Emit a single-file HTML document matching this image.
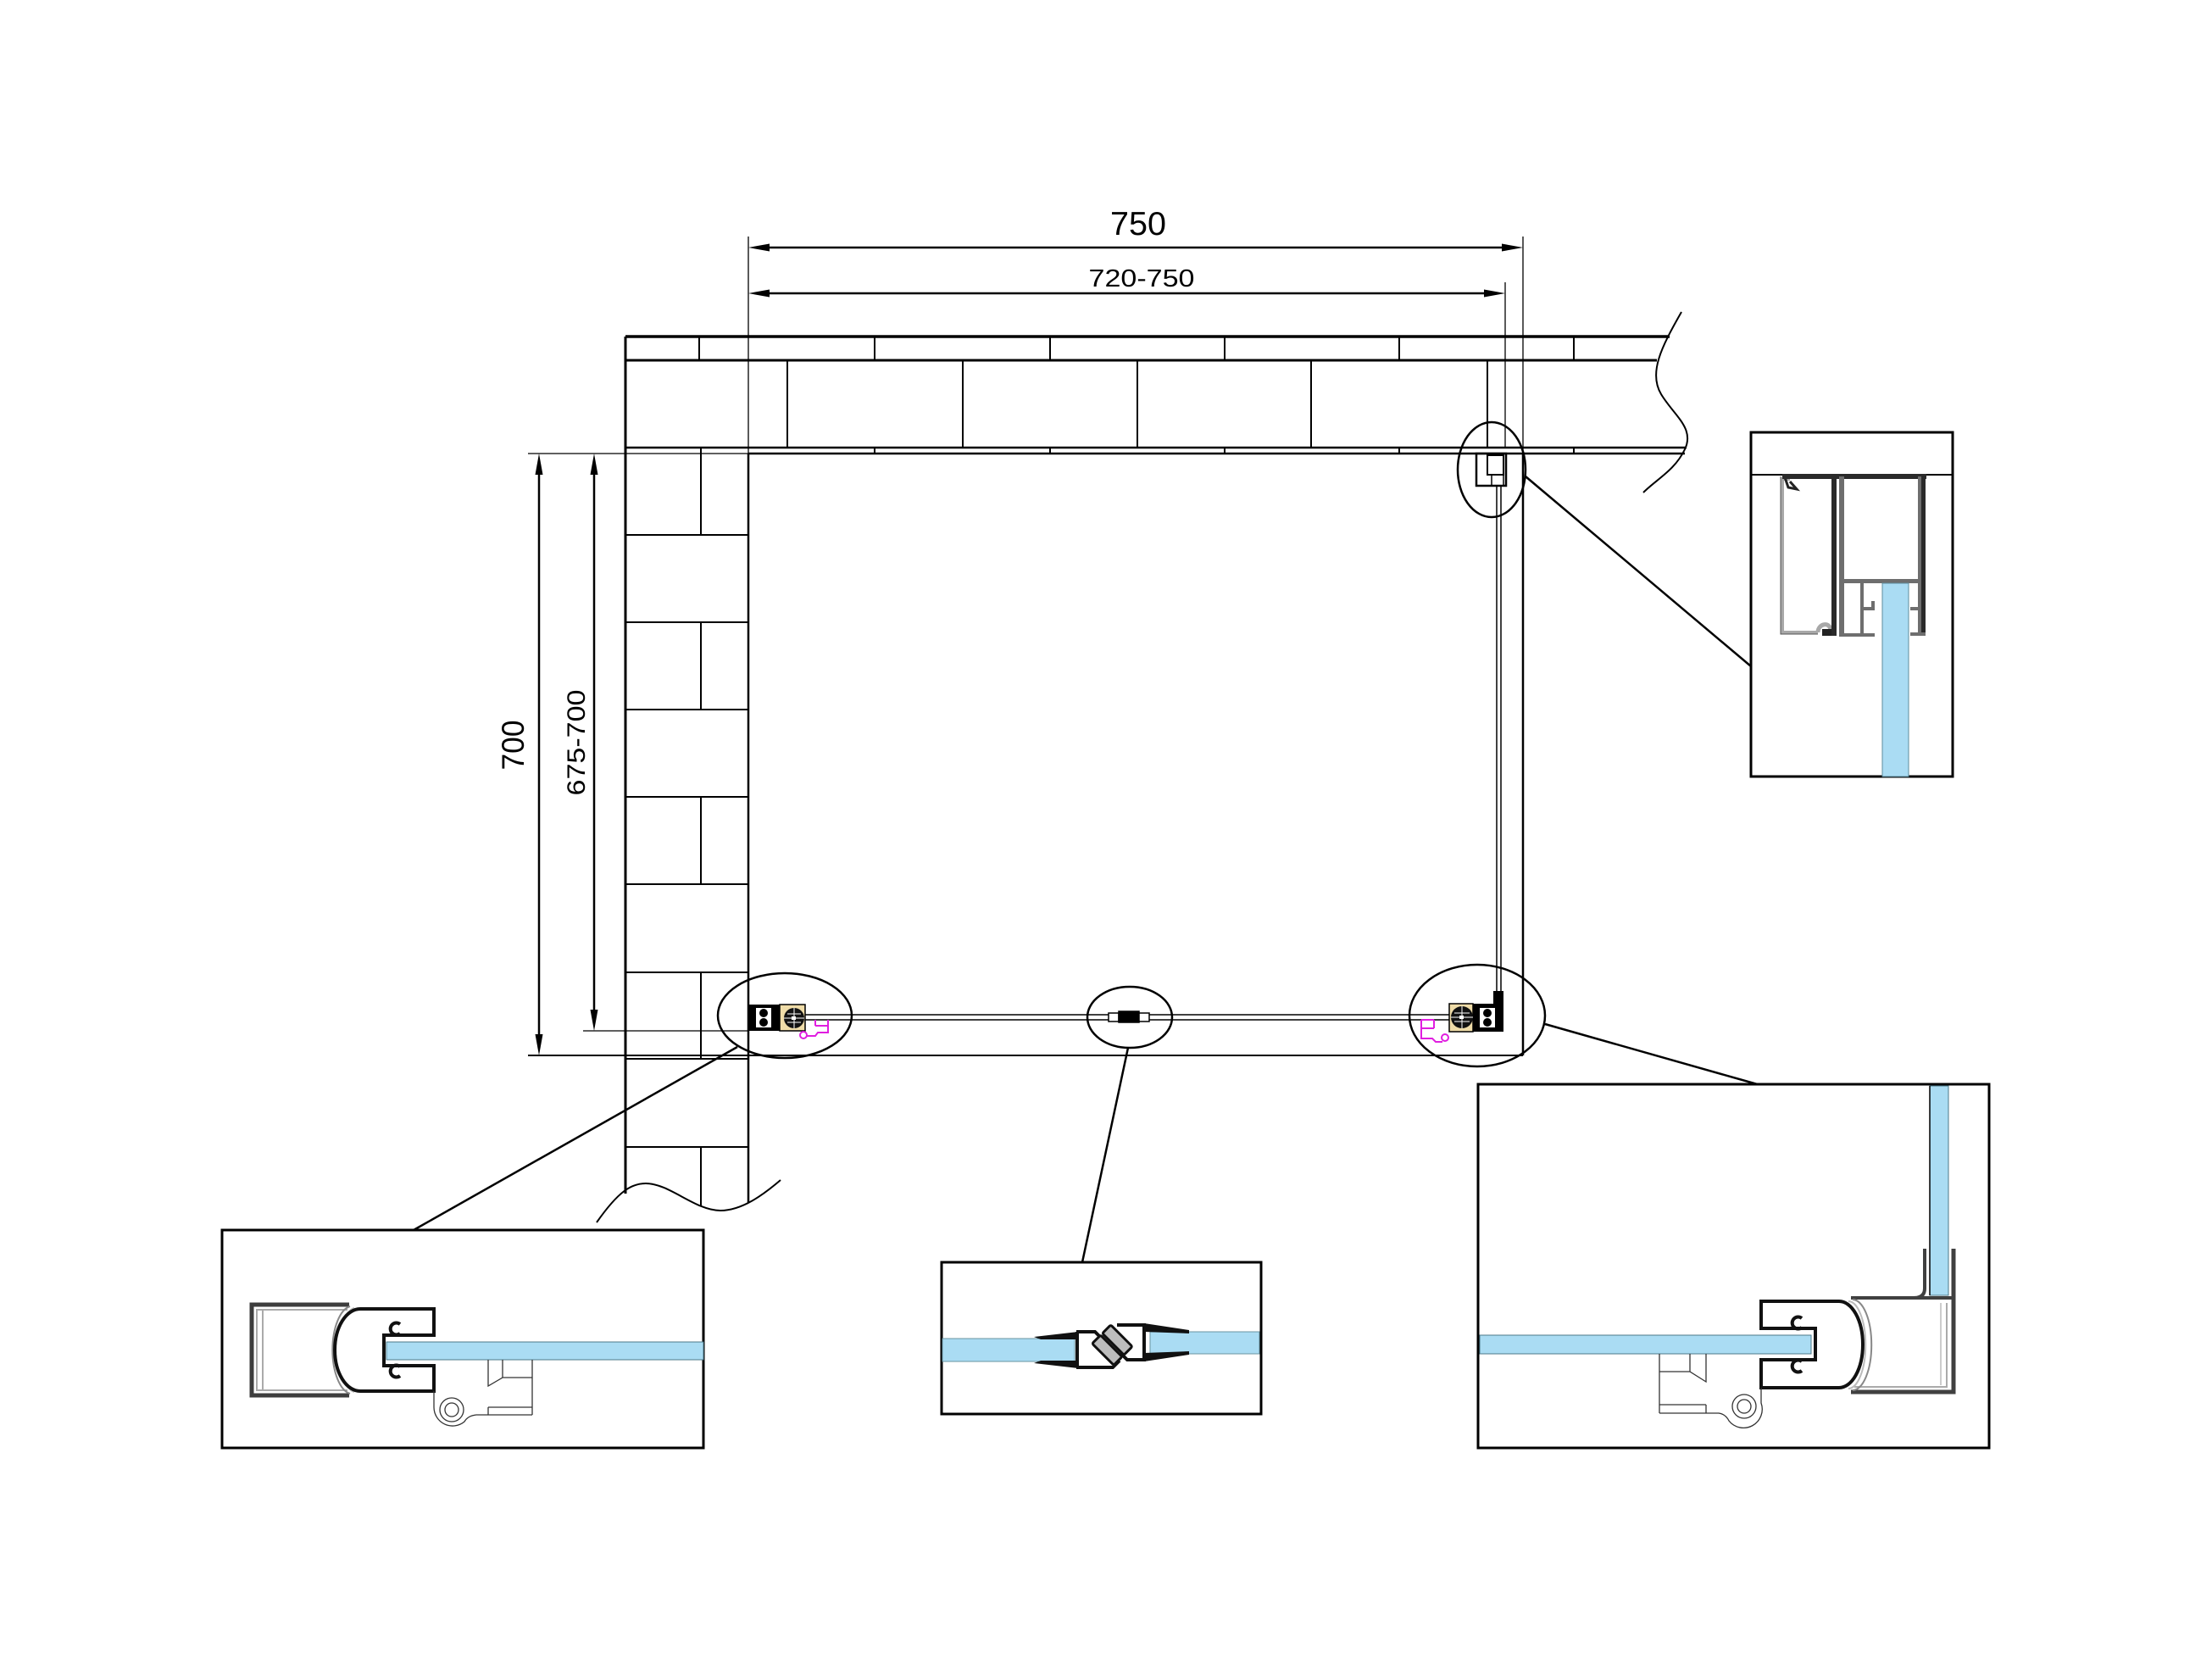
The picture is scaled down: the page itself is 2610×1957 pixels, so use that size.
<!DOCTYPE html>
<html><head><meta charset="utf-8">
<style>html,body{margin:0;padding:0;background:#fff}svg{display:block}</style></head>
<body>
<svg xmlns="http://www.w3.org/2000/svg" width="2610" height="1957" viewBox="0 0 2610 1957">
<rect width="2610" height="1957" fill="#fff"/>

<!-- ===== WALLS ===== -->
<g stroke="#000" fill="none">
  <line x1="738" y1="397" x2="1970" y2="397" stroke-width="3.5"/>
  <line x1="738" y1="425" x2="1955" y2="425" stroke-width="3"/>
  <line x1="738" y1="528" x2="1990" y2="528" stroke-width="2.5"/>
  <line x1="883" y1="535" x2="1988" y2="535" stroke-width="2.5"/>
  <path stroke-width="2" d="M825,397V425 M1032,397V425 M1239,397V425 M1445,397V425 M1651,397V425 M1857,397V425
    M929,425V528 M1136,425V528 M1342,425V528 M1547,425V528 M1755,425V528
    M1032,528V535 M1239,528V535 M1445,528V535 M1651,528V535 M1857,528V535"/>
  <!-- break curve top right -->
  <path stroke-width="2" d="M1984,368 C1960,410 1945,440 1960,465 S2000,505 1988,530 S1955,565 1939,581"/>
  <!-- left wall -->
  <line x1="738" y1="397" x2="738" y2="1408" stroke-width="3"/>
  <line x1="883" y1="535" x2="883" y2="1419" stroke-width="2.5"/>
  <path stroke-width="2" d="M738,631H883 M738,734H883 M738,837H883 M738,940H883 M738,1043H883 M738,1147H883 M738,1249H883 M738,1353H883
    M827,528V631 M827,734V837 M827,940V1043 M827,1147V1249 M827,1353V1422"/>
  <path stroke-width="2" d="M704,1442 C730,1405 745,1396 762,1396 C790,1396 820,1428 850,1428 C875,1428 900,1410 921,1392"/>
  <!-- room -->
  <line x1="1797" y1="535" x2="1797" y2="1245" stroke-width="2.5"/>
  <line x1="623" y1="1245" x2="1797" y2="1245" stroke-width="2"/>
  <!-- extension lines -->
  <path stroke-width="1.3" d="M883,279V535 M1797,279V535 M1776,333V528 M623,535H883 M688,1216H883"/>
</g>

<!-- ===== DIMENSIONS ===== -->
<g stroke="#000" stroke-width="2.5">
  <line x1="895" y1="292" x2="1785" y2="292"/>
  <line x1="895" y1="346" x2="1764" y2="346"/>
  <line x1="636" y1="547" x2="636" y2="1233"/>
  <line x1="701" y1="547" x2="701" y2="1204"/>
</g>
<g fill="#000">
  <polygon points="883,292 908,287.5 908,296.5"/>
  <polygon points="1797,292 1772,287.5 1772,296.5"/>
  <polygon points="883,346 908,341.5 908,350.5"/>
  <polygon points="1776,346 1751,341.5 1751,350.5"/>
  <polygon points="636,535 631.5,560 640.5,560"/>
  <polygon points="636,1245 631.5,1220 640.5,1220"/>
  <polygon points="701,535 696.5,560 705.5,560"/>
  <polygon points="701,1216 696.5,1191 705.5,1191"/>
</g>
<g font-family="'Liberation Sans Narrow','Liberation Sans',sans-serif" fill="#000" text-anchor="middle">
  <text x="1343" y="277" font-size="39" textLength="66" lengthAdjust="spacingAndGlyphs">750</text>
  <text x="1347" y="338" font-size="29" textLength="125" lengthAdjust="spacingAndGlyphs">720-750</text>
  <text transform="translate(618,879) rotate(-90)" x="0" y="0" font-size="37" textLength="59" lengthAdjust="spacingAndGlyphs">700</text>
  <text transform="translate(690,876) rotate(-90)" x="0" y="0" font-size="30" textLength="125" lengthAdjust="spacingAndGlyphs">675-700</text>
</g>

<!-- ===== PLAN GLASS & FITTINGS ===== -->
<g stroke="#000" stroke-width="1.5" fill="none">
  <path d="M949,1197H1710 M949,1203H1710"/>
  <path d="M1766,573V1169 M1771,573V1169"/>
</g>
<!-- top right profile -->
<g stroke="#000" fill="none">
  <rect x="1742" y="535" width="35" height="38" stroke-width="2.5"/>
  <rect x="1755" y="537" width="19" height="23" stroke-width="2"/>
  <path d="M1760,560V573 M1774,560V573" stroke-width="1.5"/>
</g>
<!-- middle seal -->
<g stroke="#000" stroke-width="1.5">
  <rect x="1308" y="1195" width="12" height="10" fill="#fff"/>
  <rect x="1320" y="1193" width="24" height="13" fill="#000"/>
  <rect x="1344" y="1195" width="12" height="10" fill="#fff"/>
</g>
<!-- bottom-left plan hinge -->
<g>
  <rect x="883" y="1185" width="37" height="31" fill="#000"/>
  <rect x="889" y="1189" width="24" height="23" fill="#fff"/>
  <rect x="889" y="1189" width="3" height="23" fill="#000"/>
  <rect x="910" y="1189" width="3" height="23" fill="#000"/>
  <circle cx="901" cy="1195" r="5" fill="#000"/>
  <circle cx="901" cy="1206" r="5" fill="#000"/>
  <rect x="920" y="1185" width="30" height="31" fill="#efdca8" stroke="#000" stroke-width="1.5"/>
  <circle cx="937" cy="1201" r="12" fill="#111"/>
  <path d="M925,1201H949 M937,1189V1213 M929,1196H945 M929,1206H945" stroke="#fff" stroke-width="1"/>
  <rect x="934" y="1199" width="5" height="4" fill="#fff"/>
  <path d="M952,1222H962L965,1218H977V1203 M962,1210H977 M962,1203V1210" stroke="#e01ee0" stroke-width="2" fill="none"/>
  <circle cx="948" cy="1221" r="4" stroke="#e01ee0" stroke-width="2" fill="none"/>
</g>
<!-- bottom-right plan hinge -->
<g>
  <rect x="1738" y="1184" width="36" height="33" fill="#000"/>
  <rect x="1762" y="1169" width="12" height="16" fill="#000"/>
  <rect x="1743" y="1189" width="24" height="23" fill="#fff"/>
  <rect x="1743" y="1189" width="3" height="23" fill="#000"/>
  <rect x="1764" y="1189" width="3" height="23" fill="#000"/>
  <circle cx="1755" cy="1195" r="5" fill="#000"/>
  <circle cx="1755" cy="1206" r="5" fill="#000"/>
  <rect x="1710" y="1184" width="28" height="33" fill="#efdca8" stroke="#000" stroke-width="1.5"/>
  <circle cx="1725" cy="1200" r="13" fill="#111"/>
  <path d="M1712,1200H1738 M1725,1187V1213 M1716,1195H1734 M1716,1205H1734" stroke="#fff" stroke-width="1"/>
  <rect x="1722" y="1198" width="5" height="4" fill="#fff"/>
  <path d="M1677,1203V1225H1690L1694,1229H1702 M1677,1213H1692 M1692,1203V1213 M1677,1203H1692" stroke="#e01ee0" stroke-width="2" fill="none"/>
  <circle cx="1705" cy="1224" r="4" stroke="#e01ee0" stroke-width="2" fill="none"/>
</g>

<!-- ===== ELLIPSES & CONNECTORS ===== -->
<g stroke="#000" stroke-width="2.5" fill="none">
  <ellipse cx="1760" cy="554" rx="40" ry="56"/>
  <ellipse cx="926" cy="1198" rx="79" ry="50"/>
  <ellipse cx="1333" cy="1200" rx="50" ry="36"/>
  <ellipse cx="1743" cy="1198" rx="80" ry="60"/>
  <line x1="1800" y1="562" x2="2066" y2="786"/>
  <line x1="870" y1="1235" x2="488" y2="1451"/>
  <line x1="1331" y1="1236" x2="1277" y2="1489"/>
  <line x1="1823" y1="1208" x2="2077" y2="1280"/>
</g>

<!-- ===== DETAIL TOP RIGHT ===== -->
<g>
  <rect x="2066" y="510" width="238" height="406" fill="#fff" stroke="#000" stroke-width="3"/>
  <line x1="2066" y1="560" x2="2304" y2="560" stroke="#000" stroke-width="2"/>
  <!-- left light profile -->
  <path d="M2112,565 H2103 V746 H2145" stroke="#a8a8a8" stroke-width="4" fill="none"/>
  <path d="M2101,562 V748 H2145" stroke="#555" stroke-width="1" fill="none"/>
  <path d="M2106,563 L2110,575 L2120,577 L2112,568" stroke="#222" stroke-width="3" fill="none"/>
  <path d="M2145,746 C2145,735 2160,733 2160,744" stroke="#a8a8a8" stroke-width="5" fill="none"/>
  <rect x="2150" y="742" width="15" height="8" fill="#222"/>
  <rect x="2161" y="562" width="6" height="188" fill="#2a2a2a"/>
  <!-- top dark band -->
  <rect x="2103" y="559" width="170" height="6" fill="#2a2a2a"/>
  <!-- right profile -->
  <rect x="2170" y="562" width="6" height="188" fill="#6e6e6e"/>
  <rect x="2263" y="562" width="4" height="188" fill="#6e6e6e"/>
  <rect x="2267" y="562" width="5" height="188" fill="#2a2a2a"/>
  <rect x="2176" y="683" width="87" height="5" fill="#6e6e6e"/>
  <rect x="2195" y="688" width="4" height="62" fill="#6e6e6e"/>
  <path d="M2199,718 H2210 V709" stroke="#6e6e6e" stroke-width="4" fill="none"/>
  <path d="M2254,718 H2265 M2254,748 H2272" stroke="#6e6e6e" stroke-width="4" fill="none"/>
  <path d="M2170,749 H2212" stroke="#6e6e6e" stroke-width="4" fill="none"/>
  <rect x="2221" y="688" width="31" height="228" fill="#aadcf3" stroke="#5d8c9c" stroke-width="1"/>
</g>

<!-- ===== DETAIL BOTTOM LEFT ===== -->
<g>
  <rect x="262" y="1451" width="568" height="257" fill="#fff" stroke="#000" stroke-width="3"/>
  <!-- wall profile -->
  <path d="M412,1539 H297 V1646 H412" stroke="#3d3d3d" stroke-width="5" fill="none"/>
  <path d="M410,1545 H303 V1640 H410" stroke="#aaa" stroke-width="2" fill="none"/>
  <line x1="310" y1="1545" x2="310" y2="1640" stroke="#aaa" stroke-width="2"/>
  <!-- seal arcs -->
  <path d="M413,1541 A24,52 0 0 0 413,1644" stroke="#888" stroke-width="2" fill="none"/>
  <path d="M418,1543 A22,50 0 0 0 418,1642" stroke="#bbb" stroke-width="2" fill="none"/>
  <!-- hinge -->
  <path d="M512,1575 L512,1544 L425,1544 A30,48.5 0 0 0 425,1641 L512,1641 L512,1611 L453,1611 L453,1575 Z" fill="#fff" stroke="#111" stroke-width="4"/>
  <path d="M472,1562 A7,7 0 1 0 472,1573 M472,1612 A7,7 0 1 0 472,1623" stroke="#111" stroke-width="4" fill="none"/>
  <rect x="456" y="1583" width="374" height="21" fill="#aadcf3" stroke="#4d7a8a" stroke-width="1"/>
  <!-- bracket -->
  <g stroke="#333" stroke-width="1.3" fill="none">
    <path d="M576,1604V1635 L593,1625 V1604 M593,1625H628 M628,1604V1669 M576,1660H628 M576,1669H628 M576,1660V1669"/>
    <path d="M576,1669 L562,1669 Q552,1670 548,1677 A22,22 0 0 1 512,1660 L512,1641"/>
    <circle cx="533" cy="1663" r="14"/>
    <circle cx="533" cy="1663" r="8"/>
  </g>
</g>

<!-- ===== DETAIL BOTTOM MIDDLE ===== -->
<g>
  <rect x="1111" y="1489" width="377" height="179" fill="#fff" stroke="#000" stroke-width="3"/>
  <rect x="1112" y="1579" width="156" height="27" fill="#aadcf3" stroke="#6a94a2" stroke-width="1"/>
  <rect x="1357" y="1571" width="129" height="26" fill="#aadcf3" stroke="#6a94a2" stroke-width="1"/>
  <!-- left seal -->
  <polygon points="1220,1577 1272,1571 1272,1580 1228,1580" fill="#111"/>
  <polygon points="1220,1608 1272,1614 1272,1605 1228,1605" fill="#111"/>
  <path d="M1270,1571 H1292 L1303,1582 M1270,1613 H1313 L1321,1605 M1271,1571 V1613" stroke="#111" stroke-width="4" fill="none"/>
  <!-- magnets -->
  <g transform="translate(1312,1587) rotate(45)">
    <rect x="-18" y="-16" width="36" height="14" rx="2" fill="#bdbdbd" stroke="#111" stroke-width="3"/>
    <rect x="-18" y="1" width="36" height="14" rx="2" fill="#bdbdbd" stroke="#111" stroke-width="3"/>
  </g>
  <!-- right seal -->
  <path d="M1318,1563 H1350 V1604 H1330 L1322,1596" stroke="#111" stroke-width="4" fill="none"/>
  <polygon points="1350,1561 1403,1569 1403,1573 1350,1571" fill="#111"/>
  <polygon points="1350,1606 1403,1598 1403,1594 1350,1596" fill="#111"/>
</g>

<!-- ===== DETAIL BOTTOM RIGHT ===== -->
<g>
  <rect x="1744" y="1279" width="603" height="429" fill="#fff" stroke="#000" stroke-width="3"/>
  <rect x="1746" y="1575" width="391" height="22" fill="#aadcf3" stroke="#4d7a8a" stroke-width="1"/>
  <rect x="2277" y="1281" width="22" height="247" fill="#aadcf3" stroke="#4d7a8a" stroke-width="1"/>
  <line x1="2277" y1="1281" x2="2277" y2="1528" stroke="#000" stroke-width="1.5"/>
  <!-- corner profile -->
  <path d="M2305,1473 V1642 H2184" stroke="#404040" stroke-width="5" fill="none"/>
  <path d="M2184,1531 H2303" stroke="#404040" stroke-width="4" fill="none"/>
  <path d="M2271,1473 V1520 Q2271,1531 2258,1531" stroke="#404040" stroke-width="4" fill="none"/>
  <path d="M2297,1537 V1636 H2188" stroke="#aaa" stroke-width="2" fill="none"/>
  <path d="M2290,1537 V1634" stroke="#ccc" stroke-width="2" fill="none"/>
  <!-- seal arcs -->
  <path d="M2186,1533 A22,53 0 0 1 2186,1640" stroke="#888" stroke-width="2" fill="none"/>
  <path d="M2181,1535 A20,51 0 0 1 2181,1638" stroke="#bbb" stroke-width="2" fill="none"/>
  <!-- hinge -->
  <path d="M2078,1567 L2078,1535 L2170,1535 A28,51 0 0 1 2170,1637 L2078,1637 L2078,1604 L2142,1604 L2142,1567 Z" fill="#fff" stroke="#111" stroke-width="4"/>
  <path d="M2126,1555 A7,7 0 1 0 2126,1566 M2126,1606 A7,7 0 1 0 2126,1617" stroke="#111" stroke-width="4" fill="none"/>
  <!-- bracket -->
  <g stroke="#333" stroke-width="1.3" fill="none">
    <path d="M2013,1597V1630 L1994,1618 V1597 M1994,1618H1958 M1958,1597V1667 M1958,1657H2013 M1958,1667H2013 M2013,1657V1667"/>
    <path d="M2013,1667 L2028,1667 Q2036,1668 2040,1676 A22,22 0 0 0 2078,1655 L2078,1637"/>
    <circle cx="2058" cy="1659" r="14"/>
    <circle cx="2058" cy="1659" r="8"/>
  </g>
</g>
</svg>
</body></html>
